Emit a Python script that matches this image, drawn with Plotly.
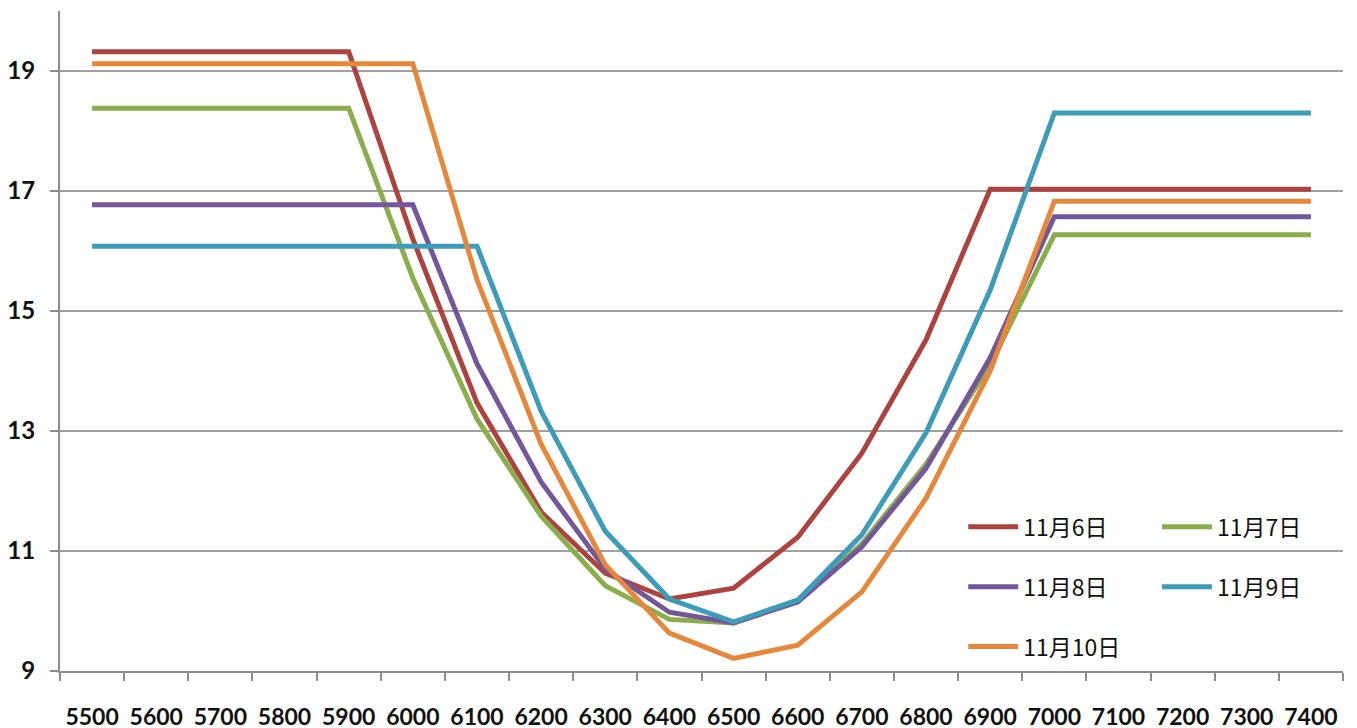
import plotly.graph_objects as go

categories = ["5500", "5600", "5700", "5800", "5900", "6000", "6100", "6200", "6300", "6400",
              "6500", "6600", "6700", "6800", "6900", "7000", "7100", "7200", "7300", "7400"]

nov6 = [19.32, 19.32, 19.32, 19.32, 19.32, 16.20, 13.47, 11.65, 10.63, 10.20,
        10.38, 11.23, 12.63, 14.52, 17.03, 17.03, 17.03, 17.03, 17.03, 17.03]
nov7 = [18.38, 18.38, 18.38, 18.38, 18.38, 15.55, 13.20, 11.58, 10.42, 9.86,
        9.80, 10.18, 11.12, 12.45, 14.10, 16.27, 16.27, 16.27, 16.27, 16.27]
nov8 = [16.77, 16.77, 16.77, 16.77, 16.77, 16.77, 14.12, 12.15, 10.70, 9.98,
        9.80, 10.15, 11.07, 12.38, 14.22, 16.57, 16.57, 16.57, 16.57, 16.57]
nov9 = [16.08, 16.08, 16.08, 16.08, 16.08, 16.08, 16.08, 13.33, 11.33, 10.20,
        9.82, 10.18, 11.27, 12.97, 15.35, 18.30, 18.30, 18.30, 18.30, 18.30]
nov10 = [19.12, 19.12, 19.12, 19.12, 19.12, 19.12, 15.52, 12.78, 10.77, 9.63,
         9.21, 9.43, 10.32, 11.88, 14.00, 16.83, 16.83, 16.83, 16.83, 16.83]

series_names = ["11月6日", "11月7日", "11月8日", "11月9日", "11月10日"]
series_values = [nov6, nov7, nov8, nov9, nov10]
series_colors = ["#AD433F", "#8BAE4D", "#74579A", "#3D9CB7", "#E6883B"]
series_legend = ["legend", "legend2", "legend", "legend2", "legend"]

fig = go.Figure()
for name, vals, col, lg in zip(series_names, series_values, series_colors, series_legend):
    fig.add_trace(go.Scatter(
        x=categories, y=vals, name=name, mode="lines",
        line=dict(color=col, width=5),
        legend=lg, legendgroup=name,
    ))

legend_font = dict(family="Noto Sans CJK SC", size=23, color="#111111")
fig.update_layout(
    width=1357, height=728,
    margin=dict(l=52, r=22, t=3, b=65),
    paper_bgcolor="white", plot_bgcolor="white",
    showlegend=True,
    legend=dict(x=0.704, y=0.251, xanchor="left", yanchor="top",
                bgcolor="rgba(0,0,0,0)", font=legend_font,
                tracegroupgap=27, itemwidth=50),
    legend2=dict(x=0.855, y=0.251, xanchor="left", yanchor="top",
                 bgcolor="rgba(0,0,0,0)", font=legend_font,
                 tracegroupgap=27, itemwidth=50),
    xaxis=dict(
        type="category", range=[-0.5, 19.5], automargin=False,
        tickson="boundaries", ticks="outside", ticklen=8, tickcolor="#8C8C8C", tickwidth=1.5,
        showline=True, linecolor="#8C8C8C", linewidth=2,
        showgrid=False, zeroline=False, tickangle=0,
        tickfont=dict(family="Lato", size=23, color="#111111", weight="bold"),
        ticklabelstandoff=24,
    ),
    yaxis=dict(
        range=[9, 20], tick0=9, dtick=2, automargin=False,
        ticks="outside", ticklen=8, tickcolor="#8C8C8C", tickwidth=1.5,
        showline=True, linecolor="#8C8C8C", linewidth=2,
        showgrid=True, gridcolor="#A0A0A0", gridwidth=1.5, zeroline=False,
        tickfont=dict(family="Lato", size=24, color="#111111", weight="bold"),
        ticklabelstandoff=10,
    ),
)

fig.write_html("out.html")
